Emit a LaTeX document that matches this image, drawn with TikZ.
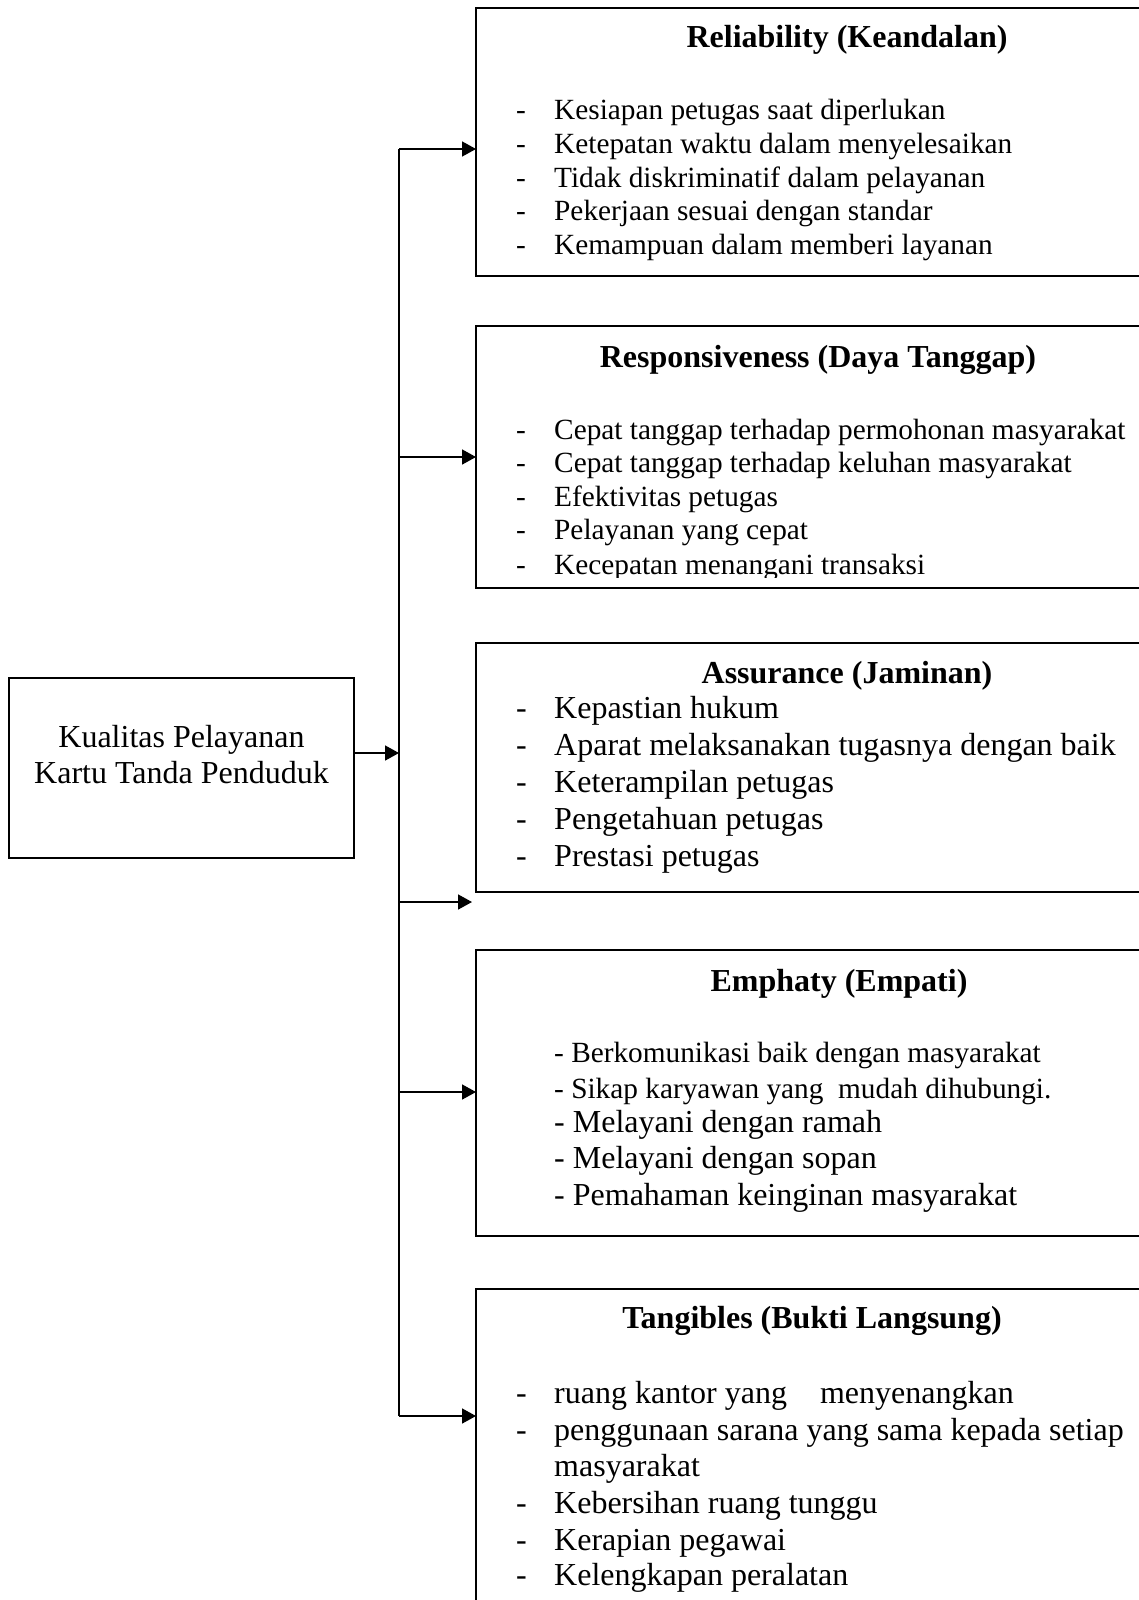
\documentclass[tikz,border=0pt]{standalone}
\usepackage{fontspec}
\setmainfont{Liberation Serif}
\usetikzlibrary{arrows.meta}
\tikzset{
  box/.style={draw, line width=1.8pt, anchor=north west, inner sep=0pt, outer sep=0pt},
  conn/.style={line width=1.6pt},
  arr/.style={line width=1.6pt, -{Triangle[length=14pt,width=15pt]}},
  ttl/.style={font=\bfseries\fontsize{32}{37}\selectfont, anchor=base, inner sep=0pt},
  sm/.style={font=\fontsize{29.3}{33}\selectfont, anchor=base west, inner sep=0pt},
  lg/.style={font=\fontsize{32}{37}\selectfont, anchor=base west, inner sep=0pt},
  lft/.style={font=\fontsize{32}{37}\selectfont, anchor=base, inner sep=0pt},
}
\newcommand\ditem[4]{%
  \node[#2] (#1d) at (516,#3) {-};
  \node[#2] (#1) at (554,#3) {#4};}
\begin{document}
\begin{tikzpicture}[x=1pt,y=-1pt]
\useasboundingbox (0,0) rectangle (1139,1600);
\clip (0,0) rectangle (1139,1600);
\fill[white] (0,0) rectangle (1139,1600);

% left box
\node[box, minimum width=345pt, minimum height=180pt] (L) at (9,678) {};
\node[lft] (L1) at (181.5,747) {Kualitas Pelayanan};
\node[lft] (L2) at (181.5,783) {Kartu Tanda Penduduk};

% right boxes
\node[box, minimum width=740pt, minimum height=268pt] (b1) at (476,8) {};
\node[box, minimum width=740pt, minimum height=262pt] (b2) at (476,326) {};
\node[box, minimum width=740pt, minimum height=249pt] (b3) at (476,643) {};
\node[box, minimum width=740pt, minimum height=286pt] (b4) at (476,950) {};
\node[box, minimum width=740pt, minimum height=380pt] (b5) at (476,1289) {};

% box 1
\node[ttl] (t1) at (847,48) {Reliability (Keandalan)};
\ditem{r1}{sm}{120}{Kesiapan petugas saat diperlukan}
\ditem{r2}{sm}{153.5}{Ketepatan waktu dalam menyelesaikan}
\ditem{r3}{sm}{187}{Tidak diskriminatif dalam pelayanan}
\ditem{r4}{sm}{220.5}{Pekerjaan sesuai dengan standar}
\ditem{r5}{sm}{254}{Kemampuan dalam memberi layanan}

% box 2
\node[ttl] (t2) at (818,367) {Responsiveness (Daya Tanggap)};
\begin{scope}
\clip (480,330) rectangle (1139,577.5);
\ditem{s1}{sm}{439}{Cepat tanggap terhadap permohonan masyarakat}
\ditem{s2}{sm}{472.5}{Cepat tanggap terhadap keluhan masyarakat}
\ditem{s3}{sm}{506}{Efektivitas petugas}
\ditem{s4}{sm}{539.5}{Pelayanan yang cepat}
\ditem{s5}{sm}{574}{Kecepatan menangani transaksi}
\end{scope}

% box 3
\node[ttl] (t3) at (847,683) {Assurance (Jaminan)};
\ditem{a1}{lg}{718}{Kepastian hukum}
\ditem{a2}{lg}{755}{Aparat melaksanakan tugasnya dengan baik}
\ditem{a3}{lg}{792}{Keterampilan petugas}
\ditem{a4}{lg}{829}{Pengetahuan petugas}
\ditem{a5}{lg}{866}{Prestasi petugas}

% box 4
\node[ttl] (t4) at (839,991) {Emphaty (Empati)};
\node[sm] (e1) at (554,1062) {- Berkomunikasi baik dengan masyarakat};
\node[sm] (e2) at (554,1098) {- Sikap karyawan yang\ \ mudah dihubungi.};
\node[lg] (e3) at (554,1132) {- Melayani dengan ramah};
\node[lg] (e4) at (554,1168) {- Melayani dengan sopan};
\node[lg] (e5) at (554,1205) {- Pemahaman keinginan masyarakat};

% box 5
\node[ttl] (t5) at (812,1328) {Tangibles (Bukti Langsung)};
\ditem{g1}{lg}{1403}{ruang kantor yang\hspace{25pt} menyenangkan}
\ditem{g2}{lg}{1440}{penggunaan sarana yang sama kepada setiap}
\node[lg] (g2b) at (554,1476.5) {masyarakat};
\ditem{g3}{lg}{1513}{Kebersihan ruang tunggu}
\ditem{g4}{lg}{1550}{Kerapian pegawai}
\ditem{g5}{lg}{1585}{Kelengkapan peralatan}

% connectors
\coordinate (v1) at (399,149);
\coordinate (v2) at (399,457);
\coordinate (vm) at (399,753);
\coordinate (v3) at (399,902);
\coordinate (v3e) at (472,902);
\coordinate (v4) at (399,1092);
\coordinate (v5) at (399,1416);
\draw[conn] (v1) -- (v5);
\draw[arr] (L.east |- vm) -- (vm);
\draw[arr] (v1) -- (b1.west |- v1);
\draw[arr] (v2) -- (b2.west |- v2);
\draw[arr] (v3) -- (v3e);
\draw[arr] (v4) -- (b4.west |- v4);
\draw[arr] (v5) -- (b5.west |- v5);
\end{tikzpicture}
\end{document}
